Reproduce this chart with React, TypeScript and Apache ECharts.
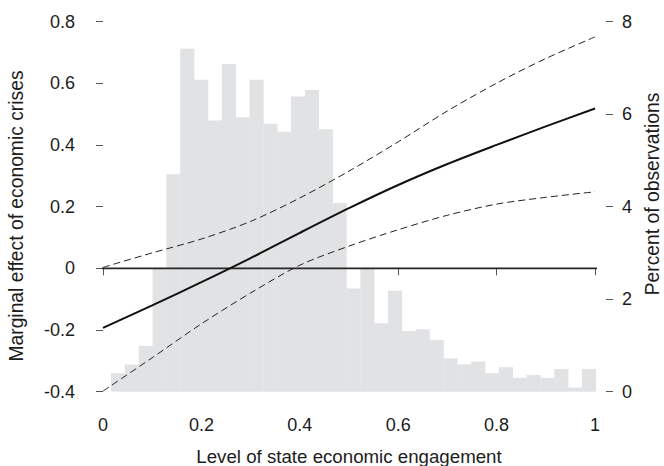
import React, { useEffect, useRef } from "react";
import * as echarts from "echarts";

// Histogram: percent of observations per bin (35 equal-width bins)
const BIN_START = 0.0163;
const BIN_WIDTH = 0.02815;
const histPercent = [
  0.40, 0.59, 0.99, 2.67, 4.70, 7.41, 6.74, 5.86, 7.08, 5.93,
  6.74, 5.79, 5.62, 6.38, 6.52, 5.67, 4.08, 2.23, 2.67, 1.48,
  2.18, 1.31, 1.35, 1.12, 0.72, 0.59, 0.65, 0.40, 0.53, 0.30,
  0.36, 0.30, 0.49, 0.09, 0.49,
];

// Marginal effect curve and 95% CI
const engagement = [0, 0.1, 0.2, 0.3, 0.4, 0.5, 0.6, 0.7, 0.8, 0.9, 1.0];
const effect = [-0.193, -0.12, -0.045, 0.033, 0.115, 0.195, 0.27, 0.338, 0.4, 0.46, 0.518];
const upperCI = [0.003, 0.05, 0.095, 0.152, 0.228, 0.315, 0.41, 0.51, 0.6, 0.68, 0.75];
const lowerCI = [-0.398, -0.29, -0.18, -0.08, 0.01, 0.072, 0.125, 0.172, 0.208, 0.23, 0.248];

// Horizontal reference line at zero, spanning the plot region
const zeroLineX = [-0.0223, 1.0234];
const zeroLineY = [0, 0];

const xTitle = "Level of state economic engagement";
const yLeftTitle = "Marginal effect of economic crises";
const yRightTitle = "Percent of observations";

const FONT = "'Liberation Sans', Arial, Helvetica, sans-serif";
const TEXT = "#1c1c1c";
const TICK = "#555";
const TICK_FS = 18;
const XTITLE_FS = 18.7;
const YTITLE_FS = 19.3;

export default function App() {
  const ref = useRef<HTMLDivElement>(null);

  useEffect(() => {
    if (!ref.current) return;
    const chart = echarts.init(ref.current, undefined, { renderer: "svg" });

    const histData = histPercent.map((p, i) => [
      BIN_START + i * BIN_WIDTH,
      BIN_START + (i + 1) * BIN_WIDTH,
      p,
    ]);
    const pair = (ys: number[]) => engagement.map((x, i) => [x, ys[i]]);

    const option: any = {
      animation: false,
      backgroundColor: "#fff",
      textStyle: { fontFamily: FONT },
      grid: { left: 103, right: 69, top: 21.5, bottom: 74.3, containLabel: false },
      xAxis: {
        type: "value",
        min: 0,
        max: 1,
        interval: 0.2,
        offset: 11,
        axisLine: { show: false },
        axisTick: { show: true, length: 7, lineStyle: { color: TICK, width: 1 } },
        axisLabel: { margin: 13, fontSize: TICK_FS, color: TEXT, fontFamily: FONT },
        splitLine: { show: false },
      },
      yAxis: [
        {
          type: "value",
          position: "left",
          min: -0.4,
          max: 0.8,
          interval: 0.2,
          offset: 11,
          axisLine: { show: false },
          axisTick: { show: true, length: 7, lineStyle: { color: TICK, width: 1 } },
          axisLabel: { margin: 17, fontSize: TICK_FS, color: TEXT, fontFamily: FONT },
          splitLine: { show: false },
        },
        {
          type: "value",
          position: "right",
          min: 0,
          max: 8,
          interval: 2,
          offset: 11,
          axisLine: { show: false },
          axisTick: { show: true, length: 7, lineStyle: { color: TICK, width: 1 } },
          axisLabel: { margin: 16, fontSize: TICK_FS, color: TEXT, fontFamily: FONT },
          splitLine: { show: false },
        },
      ],
      graphic: [
        {
          type: "text",
          x: 349,
          y: 456,
          style: { text: xTitle, fill: TEXT, font: `${XTITLE_FS}px ${FONT}`, textAlign: "center", textVerticalAlign: "middle" },
        },
        {
          type: "text",
          x: 16,
          y: 216,
          rotation: Math.PI / 2,
          style: { text: yLeftTitle, fill: TEXT, font: `${YTITLE_FS}px ${FONT}`, textAlign: "center", textVerticalAlign: "middle" },
        },
        {
          type: "text",
          x: 652.5,
          y: 194,
          rotation: Math.PI / 2,
          style: { text: yRightTitle, fill: TEXT, font: `${YTITLE_FS}px ${FONT}`, textAlign: "center", textVerticalAlign: "middle" },
        },
      ],
      series: [
        {
          type: "custom",
          xAxisIndex: 0,
          yAxisIndex: 1,
          z: 1,
          data: histData,
          renderItem: (params: any, api: any) => {
            const p0 = api.coord([api.value(0), 0]);
            const p1 = api.coord([api.value(1), api.value(2)]);
            return {
              type: "rect",
              shape: { x: p0[0], y: p1[1], width: p1[0] - p0[0] + 0.3, height: p0[1] - p1[1] },
              style: { fill: "#e1e2e4" },
            };
          },
        },
        {
          type: "line",
          yAxisIndex: 0,
          z: 5,
          clip: false,
          showSymbol: false,
          data: zeroLineX.map((x, i) => [x, zeroLineY[i]]),
          lineStyle: { color: "#262626", width: 1.7 },
        },
        {
          type: "line",
          yAxisIndex: 0,
          z: 6,
          smooth: 0.3,
          showSymbol: false,
          data: pair(effect),
          lineStyle: { color: "#111", width: 2 },
        },
        {
          type: "line",
          yAxisIndex: 0,
          z: 6,
          smooth: 0.3,
          showSymbol: false,
          data: pair(upperCI),
          lineStyle: { color: "#222", width: 1, type: [7, 4] },
        },
        {
          type: "line",
          yAxisIndex: 0,
          z: 6,
          smooth: 0.3,
          showSymbol: false,
          data: pair(lowerCI),
          lineStyle: { color: "#222", width: 1, type: [7, 4] },
        },
      ],
    };

    chart.setOption(option);
    return () => chart.dispose();
  }, []);

  return (
    <div
      ref={ref}
      style={{ position: "fixed", left: 0, top: 0, width: 664, height: 466, background: "#fff" }}
    />
  );
}
